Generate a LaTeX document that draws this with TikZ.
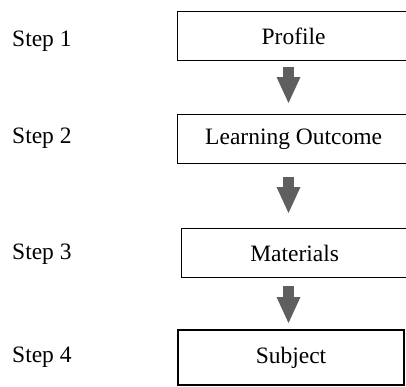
\documentclass[tikz,border=0pt]{standalone}
\usepackage{fontspec}
\setmainfont{Liberation Serif}
\usetikzlibrary{arrows.meta}
\definecolor{arrowgray}{HTML}{5F5F5F}
\tikzset{
  stagebox/.style={draw=black, line width=1.3pt, rectangle, inner sep=0pt,
    anchor=north west, font=\fontsize{23.5}{28}\selectfont},
  steplabel/.style={anchor=base west, inner sep=0pt,
    font=\fontsize{23.5}{28}\selectfont},
  flowarrow/.style={draw=arrowgray, line width=11pt,
    -{Triangle[width=24pt,length=26pt,line width=0pt]}}
}
\begin{document}
\begin{tikzpicture}[x=1pt,y=-1pt]
  \useasboundingbox (0,0) rectangle (406,386);
  \clip (0,0) rectangle (406,386);

  % the four stages of the sequence
  \node[stagebox, minimum width=232pt, minimum height=49pt] (profile) at (177,11) {Profile};
  \node[stagebox, minimum width=232pt, minimum height=49pt] (outcome) at (177,114) {Learning Outcome};
  \node[stagebox, minimum width=226pt, minimum height=49pt] (materials) at (181,228) {Materials};
  \node[stagebox, line width=2pt, minimum width=226pt, minimum height=55pt] (subject) at (177,329) {Subject};

  % step labels on the left
  \node[steplabel] (s1) at (12,46) {Step 1};
  \node[steplabel] (s2) at (12,143) {Step 2};
  \node[steplabel] (s3) at (12,259) {Step 3};
  \node[steplabel] (s4) at (12,362) {Step 4};

  % block arrows between consecutive stages
  \coordinate (axis) at (288.5,0);
  \draw[flowarrow, shorten <=6pt, shorten >=11pt] (profile.south -| axis) -- (outcome.north -| axis);
  \draw[flowarrow, shorten <=13pt, shorten >=15pt] (outcome.south -| axis) -- (materials.north -| axis);
  \draw[flowarrow, shorten <=8pt, shorten >=6pt] (materials.south -| axis) -- (subject.north -| axis);
\end{tikzpicture}
\end{document}
